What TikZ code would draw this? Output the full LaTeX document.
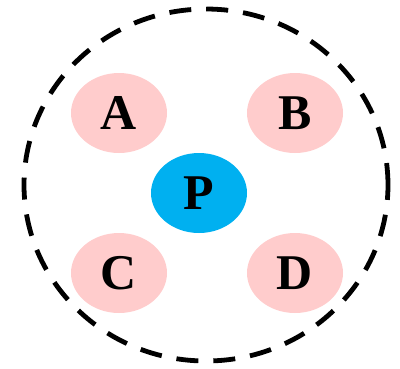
\documentclass[tikz,border=0pt]{standalone}
\usepackage{fontspec}
\setmainfont{Liberation Serif}
\usetikzlibrary{shapes.geometric}
\definecolor{MemPink}{RGB}{255,204,204}
\definecolor{CoreCyan}{RGB}{0,176,240}

\begin{document}
\begin{tikzpicture}[
  x=1pt, y=-1pt,
  member/.style={ellipse, minimum width=96pt, minimum height=80pt, inner sep=0pt,
                 fill=MemPink, font=\fontsize{50}{50}\selectfont\bfseries},
  core/.style={member, fill=CoreCyan},
  group/.style={ellipse, minimum width=364pt, minimum height=352pt, inner sep=0pt,
                draw=black, line width=4.8pt, dash pattern=on 22pt off 15pt}
]
\useasboundingbox (0,0) rectangle (400,368);
\node[group] (G) at (206,185) {};
\node[core] (P) at (199,193) {P};
\node[member] (A) at (119,113) {A};
\node[member] (B) at (295,113) {B};
\node[member] (C) at (119,273) {C};
\node[member] (D) at (295,273) {D};
\end{tikzpicture}
\end{document}
